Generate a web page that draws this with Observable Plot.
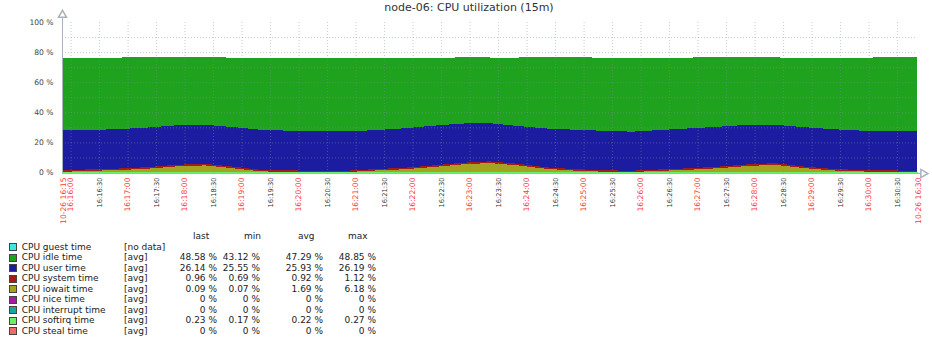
<!DOCTYPE html>
<html>
<head>
<meta charset="utf-8">
<script src="https://cdn.jsdelivr.net/npm/d3@7"></script>
<script src="https://cdn.jsdelivr.net/npm/@observablehq/plot@0.6"></script>
<style>
  html, body { margin: 0; padding: 0; background: #fff; }
  #wrap { position: relative; width: 932px; height: 342px; font-family: "DejaVu Sans", sans-serif; overflow: hidden; }
  #title { position: absolute; top: 1px; left: 469px; transform: translateX(-50%); font-size: 11px; line-height: 13px; color: #333; white-space: nowrap; }
  .lg { position: absolute; font-size: 9px; line-height: 11px; height: 11px; color: #222; white-space: nowrap; }
  .sw { position: absolute; width: 6px; height: 6px; border: 1px solid #444; }
</style>
</head>
<body>
<div id="wrap">
  <div id="chart"></div>
  <div id="title">node-06: CPU utilization (15m)</div>
  <div id="legend"></div>
</div>
<script>
// ---- data ----
const times = ["16:15:51","16:16:21","16:16:51","16:17:21","16:17:51","16:18:21","16:18:51","16:19:21","16:19:51","16:20:21","16:20:51",
  "16:21:21","16:21:51","16:22:21","16:22:51","16:23:21","16:23:51","16:24:21","16:24:51","16:25:21","16:25:51",
  "16:26:21","16:26:51","16:27:21","16:27:51","16:28:21","16:28:51","16:29:21","16:29:51","16:30:21","16:30:51"];

const idle = [48.4,48.1,47.5,47.0,45.6,44.7,46.2,48.0,48.4,48.8,48.8,48.1,47.0,45.3,43.9,43.6,45.5,47.6,48.4,48.4,48.8,48.0,47.0,46.5,45.3,44.7,46.2,47.5,48.3,48.9,48.9];
const user = [26.5,26.1,26.2,26.3,26.2,25.9,26.3,26.6,26.4,26.1,26.1,25.9,26.2,26.4,26.1,25.4,25.1,25.8,26.2,26.3,25.9,26.2,26.5,26.5,26.3,25.5,26.1,26.4,26.2,26.45,26.5];
const system = [0.98,1.0,1.02,1.05,1.1,1.12,1.08,1.0,0.95,0.9,0.9,0.95,1.0,1.05,1.1,1.1,1.08,1.02,0.98,0.92,0.9,0.95,1.0,1.05,1.1,1.1,1.05,1.0,0.96,0.96,0.96];
const iowait = [0.2,0.9,1.4,2.3,3.8,4.5,2.6,0.5,0.2,0.1,0.08,1.1,1.9,3.4,5.1,6.1,4.5,2.2,1.0,0.3,0.1,0.9,1.6,2.6,4.0,4.9,2.8,1.2,0.5,0.15,0.09];
const nice = [0,0,0,0,0,0,0,0,0,0,0,0,0,0,0,0,0,0,0,0,0,0,0,0,0,0,0,0,0,0,0];
const interrupt = [0,0,0,0,0,0,0,0,0,0,0,0,0,0,0,0,0,0,0,0,0,0,0,0,0,0,0,0,0,0,0];
const softirq = [0.22,0.22,0.23,0.22,0.21,0.22,0.22,0.23,0.22,0.21,0.22,0.22,0.23,0.22,0.22,0.21,0.22,0.22,0.23,0.22,0.22,0.21,0.22,0.22,0.23,0.22,0.22,0.22,0.21,0.23,0.23];
const steal = [0,0,0,0,0,0,0,0,0,0,0,0,0,0,0,0,0,0,0,0,0,0,0,0,0,0,0,0,0,0,0];

const seriesNames = ["CPU guest time","CPU idle time","CPU user time","CPU system time","CPU iowait time","CPU nice time","CPU interrupt time","CPU softirq time","CPU steal time"];
const seriesColors = ["#3ae8e8","#1fa31f","#1c1ca0","#a31c1c","#a3a31f","#a31ca3","#1ca3a3","#6bef6b","#f06b6b"];
const legendFunc = ["[no data]","[avg]","[avg]","[avg]","[avg]","[avg]","[avg]","[avg]","[avg]"];
const lastVals = ["","48.58 %","26.14 %","0.96 %","0.09 %","0 %","0 %","0.23 %","0 %"];
const minVals  = ["","43.12 %","25.55 %","0.69 %","0.07 %","0 %","0 %","0.17 %","0 %"];
const avgVals  = ["","47.29 %","25.93 %","0.92 %","1.69 %","0 %","0 %","0.22 %","0 %"];
const maxVals  = ["","48.85 %","26.19 %","1.12 %","6.18 %","0 %","0 %","0.27 %","0 %"];
const legendHeaders = ["last","min","avg","max"];

const minuteTicks = ["16:16:00","16:17:00","16:18:00","16:19:00","16:20:00","16:21:00","16:22:00","16:23:00","16:24:00","16:25:00","16:26:00","16:27:00","16:28:00","16:29:00","16:30:00"];
const halfTicks = ["16:16:30","16:17:30","16:18:30","16:19:30","16:20:30","16:21:30","16:22:30","16:23:30","16:24:30","16:25:30","16:26:30","16:27:30","16:28:30","16:29:30","16:30:30"];
const endLabels = ["10-26 16:15","10-26 16:30"];
const yTicks = [0,20,40,60,80,100];
const yGrid = [10,20,30,40,50,60,70,80,90];

// ---- build ----
const toDate = s => new Date(`2023-10-26T${s}Z`);
const seriesValues = {
  "CPU idle time": idle, "CPU user time": user, "CPU system time": system, "CPU iowait time": iowait,
  "CPU nice time": nice, "CPU interrupt time": interrupt, "CPU softirq time": softirq, "CPU steal time": steal
};
const rows = [];
for (const [name, vals] of Object.entries(seriesValues)) {
  vals.forEach((v, i) => rows.push({time: toDate(times[i]), series: name, value: v}));
}
const stackOrder = seriesNames.slice(1).reverse(); // bottom first
const t0 = toDate(times[0]), t1 = toDate(times[times.length - 1]);
const fmt = d3.utcFormat("%H:%M:%S");
const axisColor = "#a9b3bd";

const chart = Plot.plot({
  width: 932, height: 232,
  marginTop: 22, marginBottom: 59.5, marginLeft: 62, marginRight: 15,
  x: {type: "utc", domain: [t0, t1]},
  y: {domain: [0, 100]},
  color: {domain: seriesNames, range: seriesColors},
  style: {fontFamily: "DejaVu Sans", background: "white", overflow: "visible"},
  marks: [
    Plot.ruleY([0], {x1: t0, x2: d3.utcSecond.offset(t1, 6), stroke: axisColor, dy: 0.5}),
    Plot.areaY(rows, {x: "time", y: "value", z: "series", fill: "series", order: stackOrder, curve: "linear", shapeRendering: "crispEdges"}),
    Plot.lineY(rows, Plot.stackY2({x: "time", y: "value", z: "series", order: stackOrder, stroke: "series",
      strokeOpacity: d => d.series === "CPU softirq time" ? 1 : 0, strokeWidth: 1})),
    Plot.gridX(minuteTicks.concat(halfTicks).map(toDate), {stroke: "#7f8fa0", strokeOpacity: 0.45, strokeDasharray: "1,2"}),
    Plot.gridY(yGrid, {stroke: "#7f8fa0", strokeOpacity: 0.45, strokeDasharray: "1,2"}),
    Plot.ruleX([t0], {y1: 0, y2: yTicks[yTicks.length - 1] + 5, stroke: axisColor}),
    Plot.dot([t0], {x: d => d, y: () => yTicks[yTicks.length - 1] + 5, symbol: "triangle", r: 3, fill: "white", stroke: axisColor}),
    Plot.dot([d3.utcSecond.offset(t1, 6)], {x: d => d, y: () => 0, symbol: "triangle", rotate: 90, r: 3, fill: "white", stroke: axisColor, dy: 0.5}),
    Plot.axisY(yTicks, {tickSize: 0, tickPadding: 9, tickFormat: d => `${d} %`, fontSize: 7.6, fill: "#444", label: null}),
    Plot.axisX(minuteTicks.map(toDate), {tickSize: 0, tickPadding: 4.5, tickRotate: -90, textAnchor: "end", lineAnchor: "middle",
      tickFormat: d => fmt(d), fontSize: 7.6, fill: "#ff3b3b", label: null}),
    Plot.axisX(halfTicks.map(toDate), {tickSize: 0, tickPadding: 4.5, tickRotate: -90, textAnchor: "end", lineAnchor: "middle",
      tickFormat: d => fmt(d), fontSize: 6.7, fill: "#333", label: null}),
    Plot.axisX([t0, t1], {tickSize: 0, tickPadding: 4.5, tickRotate: -90, textAnchor: "end", lineAnchor: "middle",
      tickFormat: (d, i) => endLabels[i], fontSize: 7.6, fill: "#ff3b3b", label: null, dx: 1})
  ]
});
document.getElementById("chart").appendChild(chart);

// ---- legend ----
const legend = document.getElementById("legend");
function addText(txt, x, yc, align) {
  const s = document.createElement("div");
  s.className = "lg";
  s.textContent = txt;
  s.style.top = (yc - 5.5) + "px";
  if (align === "right") { s.style.right = (932 - x) + "px"; }
  else { s.style.left = x + "px"; }
  legend.appendChild(s);
}
const headerX = [193, 244, 298, 348];
legendHeaders.forEach((h, i) => addText(h, headerX[i], 236, "left"));
const colRight = [217, 260, 323, 376];
seriesNames.forEach((name, i) => {
  const yc = 247.2 + 10.5 * i;
  const sw = document.createElement("div");
  sw.className = "sw";
  sw.style.left = "9px";
  sw.style.top = (yc - 4) + "px";
  sw.style.background = seriesColors[i];
  legend.appendChild(sw);
  addText(name, 21.7, yc, "left");
  addText(legendFunc[i], 124, yc, "left");
  [lastVals, minVals, avgVals, maxVals].forEach((arr, j) => { if (arr[i]) addText(arr[i], colRight[j], yc, "right"); });
});
</script>
</body>
</html>
